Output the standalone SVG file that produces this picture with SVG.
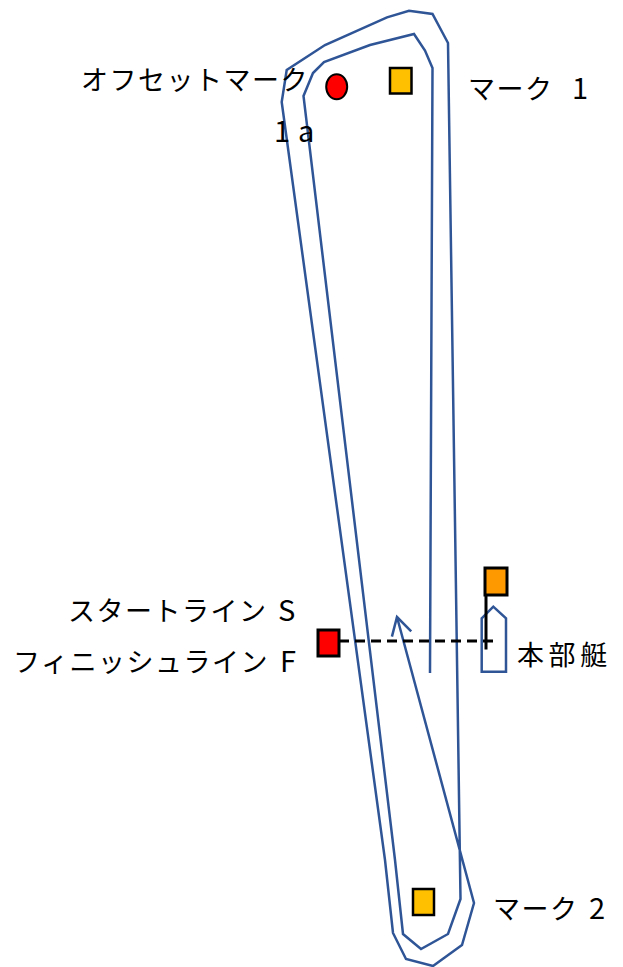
<svg xmlns="http://www.w3.org/2000/svg" width="623" height="967" viewBox="0 0 623 967">
<style>
.lbl{font-family:"Noto Sans CJK JP","Noto Sans",sans-serif;font-size:27px;fill:#000;letter-spacing:1.5px}
.lat{font-size:29px}
.course{fill:none;stroke:#2F5597;stroke-width:2.5;stroke-linejoin:miter}
.mark{fill:#FFC000;stroke:#000;stroke-width:2.5}
</style>
<defs>
<marker id="arr" markerUnits="userSpaceOnUse" viewBox="-20 -12 22 24" refX="0" refY="0" markerWidth="22" markerHeight="24" orient="auto" overflow="visible">
<path d="M-17.6,-10 L0,0 L-17.6,10" fill="none" stroke="#2F5597" stroke-width="2.5"/>
</marker>
</defs>
<rect width="623" height="967" fill="#fff"/>
<g id="connectors">
<path id="course" class="course" marker-end="url(#arr)" d="M430,673 L432.5,68 L425,50.5 L414,34 L370,45 L324,62 L313,73 L303.5,96 L395,860 L403,934 L421,949 L448,934 L460.5,899 L448,43 L432.5,14 L409,10.7 L387,17.3 L325,45 L286.7,70 L281.7,102 L385,860 L393,933 L406,959 L433,966 L462,945 L474,903 L397,617"/>
<line id="line-sf" x1="339" y1="641" x2="493" y2="641" stroke="#000" stroke-width="3" stroke-dasharray="10 6"/>
</g>
<g id="offset-mark">
<ellipse cx="336.7" cy="86.7" rx="10.5" ry="12.5" fill="#FF0000" stroke="#000" stroke-width="2"/>
<text class="lbl" x="81" y="90">オフセットマーク</text>
<text class="lbl lat" x="274" y="142">1<tspan x="298">a</tspan></text>
</g>
<g id="mark1">
<rect class="mark" x="390" y="68" width="21.5" height="25.5"/>
<text class="lbl" x="468" y="99">マーク<tspan class="lat" x="572">1</tspan></text>
</g>
<g id="mark2">
<rect class="mark" x="413" y="889" width="21" height="26"/>
<text class="lbl" x="493" y="919">マーク<tspan class="lat" x="589">2</tspan></text>
</g>
<g id="start-finish">
<rect x="318" y="630" width="21" height="26" fill="#FF0000" stroke="#000" stroke-width="3"/>
<text class="lbl" x="68" y="621">スタートライン<tspan class="lat" x="278">S</tspan></text>
<text class="lbl" x="13" y="672">フィニッシュライン<tspan class="lat" x="280">F</tspan></text>
</g>
<g id="committee-boat">
<polygon points="481.7,618.3 493.3,606.7 506,618.3 506,671.7 481.7,671.7" fill="none" stroke="#2F5597" stroke-width="2.5"/>
<line x1="486" y1="595" x2="486" y2="649.5" stroke="#000" stroke-width="3"/>
<rect x="485" y="568" width="22" height="27" fill="#FF9900" stroke="#000" stroke-width="3"/>
<text class="lbl" x="517" y="665" style="letter-spacing:4.6px">本部艇</text>
</g>
</svg>
